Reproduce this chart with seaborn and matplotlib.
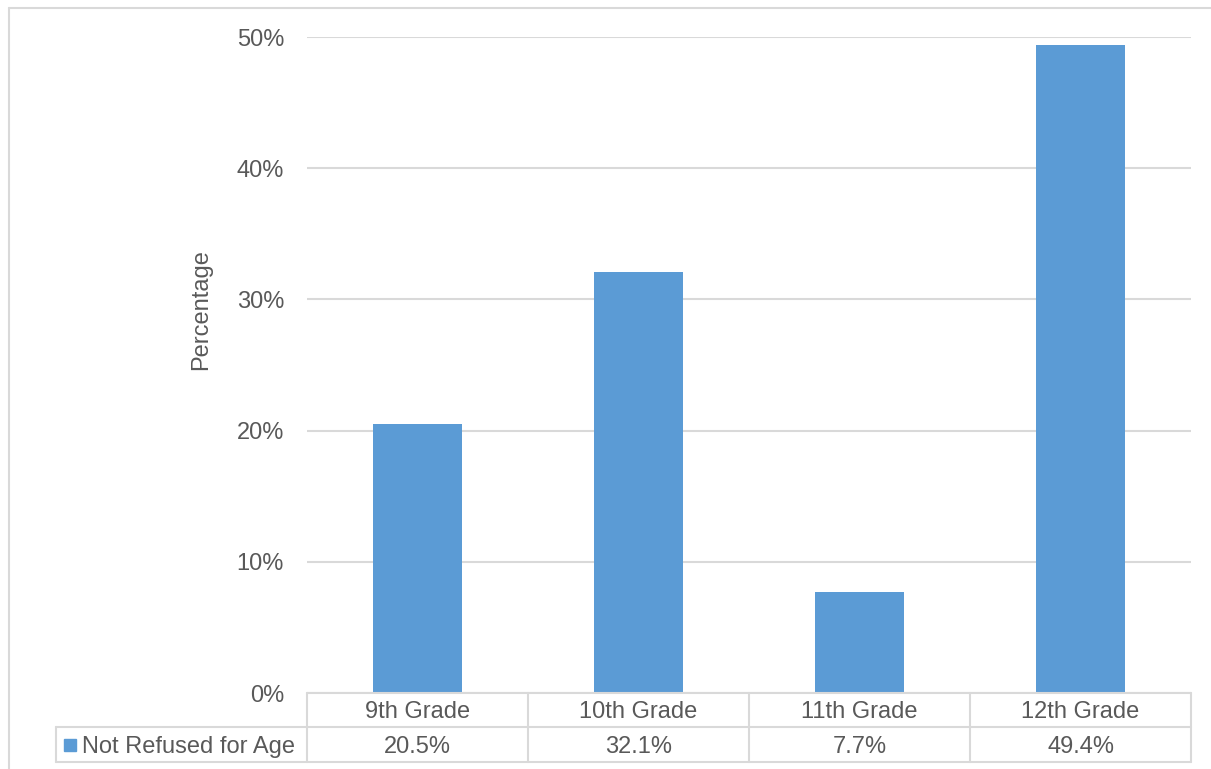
import numpy as np
import pandas as pd
import matplotlib
matplotlib.use("Agg")
import matplotlib.pyplot as plt
import matplotlib.transforms as mtransforms
from matplotlib.ticker import FuncFormatter
import seaborn as sns

# data
grades = ['9th Grade', '10th Grade', '11th Grade', '12th Grade']
not_refused = [20.5, 32.1, 7.7, 49.4]
series_name = 'Not Refused for Age'
y_ticks = [0, 10, 20, 30, 40, 50]

BAR = '#5B9BD5'
TXT = '#595959'
GRID = '#D9D9D9'

sns.set_style('white')
plt.rcParams['font.family'] = ['Liberation Sans', 'DejaVu Sans']

df = pd.DataFrame({'grade': grades, 'pct': not_refused})

W, H = 1211, 769
fig = plt.figure(figsize=(W / 100, H / 100), dpi=100)
ax = fig.add_axes([307 / W, 1 - 693 / H, 884 / W, 656 / H])

sns.barplot(data=df, x='grade', y='pct', color=BAR, width=0.4, ax=ax,
            saturation=1, edgecolor='none')

ax.set_ylim(0, 50)
ax.set_xlim(-0.5, len(grades) - 0.5)
ax.set_yticks(y_ticks)
ax.yaxis.set_major_formatter(FuncFormatter(lambda v, p: f'{v:.0f}%'))
ax.tick_params(axis='y', length=0, pad=16.5, labelsize=17, labelcolor=TXT)
ax.set_xticks([])
ax.set_xlabel('')
ax.set_ylabel('Percentage', fontsize=17, color=TXT, labelpad=0)
ax.yaxis.set_label_coords(-0.107, (693 - 310) / 656)
ax.grid(axis='y', color=GRID, linewidth=1.5)
ax.set_axisbelow(True)
for s in ax.spines.values():
    s.set_visible(False)

# data table under the plot
trans = mtransforms.blended_transform_factory(ax.transData, ax.transAxes)
ah = 656.0
r0, r1, r2 = 0.0, -34 / ah, -69 / ah
leg_left = (56 - 307) / 884.0
lk = dict(color=GRID, linewidth=1.5, clip_on=False)
n = len(grades)
ax.plot([-0.5, n - 0.5], [r0, r0], transform=trans, **lk)
ax.plot([leg_left, 1], [r1, r1], transform=ax.transAxes, **lk)
ax.plot([leg_left, 1], [r2, r2], transform=ax.transAxes, **lk)
ax.plot([leg_left, leg_left], [r1, r2], transform=ax.transAxes, **lk)
for i in range(n + 1):
    ax.plot([i - 0.5, i - 0.5], [r0, r2], transform=trans, **lk)
dy = -2.5 / ah
for i, (g, v) in enumerate(zip(grades, not_refused)):
    ax.text(i, (r0 + r1) / 2 + dy, g, transform=trans, ha='center', va='center',
            fontsize=17, color=TXT)
    ax.text(i, (r1 + r2) / 2 + dy, f'{v:.1f}%', transform=trans, ha='center',
            va='center', fontsize=17, color=TXT)
ax.text(leg_left + 26 / 884.0, (r1 + r2) / 2 + dy, series_name, transform=ax.transAxes,
        ha='left', va='center', fontsize=17, color=TXT)
ax.plot([leg_left + 14 / 884.0], [(r1 + r2) / 2], marker='s', markersize=8.5,
        color=BAR, transform=ax.transAxes, clip_on=False)

# outer chart border
fig.add_artist(plt.Line2D([9 / W, 1], [1 - 8 / H, 1 - 8 / H], color=GRID, linewidth=1.5))
fig.add_artist(plt.Line2D([9 / W, 9 / W], [0, 1 - 8 / H], color=GRID, linewidth=1.5))

fig.savefig('out.png', dpi=100)
